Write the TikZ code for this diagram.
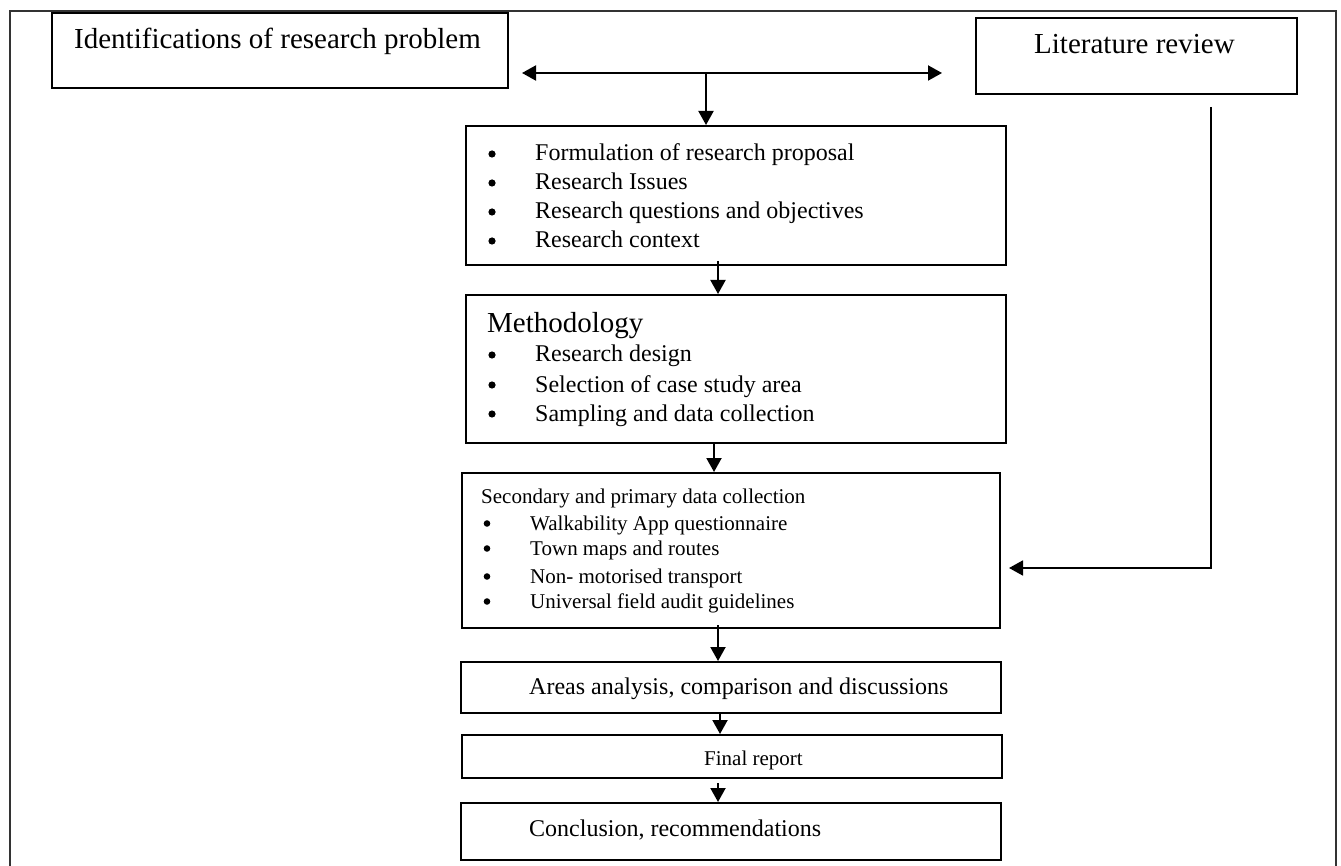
\documentclass[tikz,border=0pt]{standalone}
\usepackage{fontspec}
\setmainfont{Liberation Serif}
\usetikzlibrary{arrows.meta,calc}
\begin{document}
\begin{tikzpicture}[x=1pt,y=-1pt,
  box/.style={draw,line width=2pt,inner sep=0pt,anchor=north west},
  txt/.style={anchor=base west,inner sep=0pt},
  arr/.style={line width=2pt,-{Triangle[length=14pt,width=15pt]}},
  dbl/.style={line width=2pt,{Triangle[length=14pt,width=15pt]}-{Triangle[length=14pt,width=15pt]}},
  big/.style={font=\fontsize{29}{33}\selectfont},
  med/.style={font=\fontsize{24}{28}\selectfont},
  sml/.style={font=\fontsize{21}{25}\selectfont}]
\useasboundingbox (0,0) rectangle (1341,866);
% outer frame (open at the bottom)
\draw[line width=1.2pt,black!80] (10,866) -- (10,11) -- (1336,11) -- (1336,866);
% boxes
\node[box,minimum width=456pt,minimum height=75pt] (ident) at (51,12) {};
\node[box,minimum width=321pt,minimum height=76pt] (lit) at (975,17) {};
\node[box,minimum width=540pt,minimum height=139pt] (form) at (465,125) {};
\node[box,minimum width=540pt,minimum height=148pt] (meth) at (465,294) {};
\node[box,minimum width=538pt,minimum height=155pt] (sec) at (461,472) {};
\node[box,minimum width=540pt,minimum height=51pt] (area) at (460,661) {};
\node[box,minimum width=540pt,minimum height=43pt] (final) at (461,734) {};
\node[box,minimum width=540pt,minimum height=57pt] (concl) at (460,802) {};
% texts
\node[txt,big] (identT) at (74,49) {Identifications of research problem};
\node[txt,big] (litT) at (1034,54) {Literature review};
\node[txt,med] (f1) at (535,161) {Formulation of research proposal};
\node[txt,med] (f2) at (535,190) {Research Issues};
\node[txt,med] (f3) at (535,219) {Research questions and objectives};
\node[txt,med] (f4) at (535,248) {Research context};
\node[txt,big] (m0) at (487,333) {Methodology};
\node[txt,med] (m1) at (535,362) {Research design};
\node[txt,med] (m2) at (535,392) {Selection of case study area};
\node[txt,med] (m3) at (535,421) {Sampling and data collection};
\node[txt,sml] (s0) at (481,503) {Secondary and primary data collection};
\node[txt,sml] (s1) at (530,530) {Walkability App questionnaire};
\node[txt,sml] (s2) at (530,555) {Town maps and routes};
\node[txt,sml] (s3) at (530,583) {Non- motorised transport};
\node[txt,sml] (s4) at (530,608) {Universal field audit guidelines};
\node[txt,med] (areaT) at (529,694) {Areas analysis, comparison and discussions};
\node[txt,sml] (finalT) at (704,765) {Final report};
\node[txt,med] (conclT) at (529,836) {Conclusion, recommendations};
% bullets
\foreach \n in {f1,f2,f3,f4,m1,m2,m3}
  \fill ($(\n.base west)+(-43,-7)$) circle (3.6);
\foreach \n in {s1,s2,s3,s4}
  \fill ($(\n.base west)+(-43,-6.5)$) circle (3.3);
% connectors
\coordinate (hm) at (706,73);
\coordinate (x1) at (718,0);
\coordinate (x2) at (714,0);
\coordinate (x3) at (720,0);
\coordinate (lx) at (1211,0);
\draw[dbl] ($(ident.east |- hm)+(13,0)$) -- ($(lit.west |- hm)+(-33,0)$);
\draw[arr] (hm) -- (form.north -| hm);
\draw[arr] ($(form.south -| x1)+(0,-5)$) -- (meth.north -| x1);
\draw[arr] (meth.south -| x2) -- (sec.north -| x2);
\draw[arr] ($(sec.south -| x1)+(0,-4)$) -- (area.north -| x1);
\draw[arr] (area.south -| x3) -- (final.north -| x3);
\draw[arr] ($(final.south -| x1)+(0,4)$) -- (concl.north -| x1);
\draw[line width=1.8pt,-{Triangle[length=14pt,width=15pt]}] ($(lit.south -| lx)+(0,12)$) |- ($(sec.east)+(8,17.5)$);
\end{tikzpicture}
\end{document}
